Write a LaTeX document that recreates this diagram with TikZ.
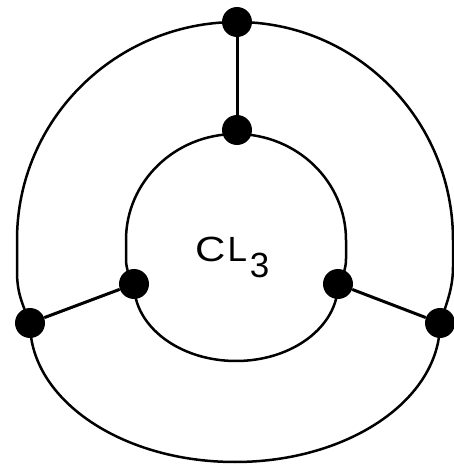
\documentclass[tikz,border=0pt]{standalone}
\usepackage{fontspec}
\setmainfont{Liberation Sans}
\begin{document}
\begin{tikzpicture}[x=1pt,y=1pt,
  curve/.style={line width=2.5pt},
  link/.style={line width=3pt},
  dot/.style={circle,fill=black,inner sep=0pt,minimum size=30pt}]
\useasboundingbox (0,0) rectangle (454,467);
% outer loop
\draw[curve] (237,445) arc[start angle=90,end angle=180,x radius=220,y radius=218]
  -- (17,195) .. controls (17,172) and (24,160) .. (30,144)
  arc[start angle=180,end angle=360,x radius=205,y radius=139]
  .. controls (446,162) and (453,178) .. (453,200) -- (453,227)
  arc[start angle=0,end angle=90,x radius=216,y radius=218];
% inner loop
\draw[curve] (236,333) arc[start angle=90,end angle=180,x radius=110,y radius=106]
  -- (126,208) .. controls (126,197) and (130,190) .. (134,183)
  arc[start angle=180,end angle=360,x radius=102,y radius=77]
  .. controls (342,190) and (346,197) .. (346,208) -- (346,227)
  arc[start angle=0,end angle=90,x radius=110,y radius=106];
% dots
\node[dot] (ot) at (237,445) {};
\node[dot] (it) at (237,337) {};
\node[dot] (il) at (134,183) {};
\node[dot] (ir) at (338,183) {};
\node[dot] (ol) at (30,144) {};
\node[dot] (or) at (440,144) {};
\draw[link] (ot) -- (it);
\draw[link] (il) -- (ol);
\draw[link] (ir) -- (or);
\node[anchor=base west,inner sep=0pt] (lbl) at (195,205) {\fontsize{35}{35}\selectfont \scalebox{1.2}[1]{C}\kern2pt L\kern3pt\raisebox{-16pt}{3}};
\end{tikzpicture}
\end{document}
